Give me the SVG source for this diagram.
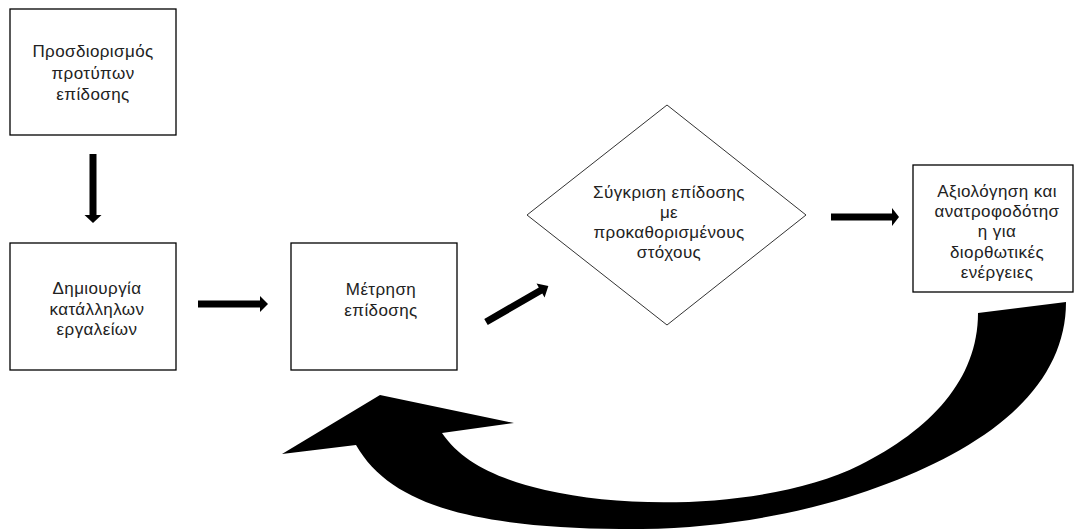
<svg xmlns="http://www.w3.org/2000/svg" width="1075" height="529" viewBox="0 0 1075 529">
  <style>
    .box { fill: #ffffff; stroke: #000000; stroke-width: 1.3; }
    .diamond { fill: #ffffff; stroke: #333333; stroke-width: 1; }
    .label { font-family: "Liberation Sans", Arial, sans-serif; font-size: 17px; letter-spacing: 0.4px; fill: #222222; text-anchor: middle; }
    .arrow { fill: #000000; }
  </style>
  <rect width="1075" height="529" fill="#ffffff"/>

  <g id="node-standards">
    <rect class="box" x="10" y="9" width="166" height="126"/>
    <text class="label" x="93" y="57">Προσδιορισμός</text>
    <text class="label" x="93" y="79">προτύπων</text>
    <text class="label" x="93" y="100">επίδοσης</text>
  </g>

  <g id="node-tools">
    <rect class="box" x="10" y="243" width="166" height="127"/>
    <text class="label" x="97" y="294">Δημιουργία</text>
    <text class="label" x="97" y="315">κατάλληλων</text>
    <text class="label" x="97" y="335">εργαλείων</text>
  </g>

  <g id="node-measure">
    <rect class="box" x="291" y="243" width="166" height="127"/>
    <text class="label" x="381" y="295">Μέτρηση</text>
    <text class="label" x="381" y="316">επίδοσης</text>
  </g>

  <g id="node-compare">
    <polygon class="diamond" points="667,105 806,215 667,325 527,215"/>
    <text class="label" x="669" y="198">Σύγκριση επίδοσης</text>
    <text class="label" x="669" y="218">με</text>
    <text class="label" x="669" y="238">προκαθορισμένους</text>
    <text class="label" x="669" y="258">στόχους</text>
  </g>

  <g id="node-evaluate">
    <rect class="box" x="913" y="165" width="160" height="127"/>
    <text class="label" x="997" y="197">Αξιολόγηση και</text>
    <text class="label" x="997" y="217">ανατροφοδότησ</text>
    <text class="label" x="997" y="237">η για</text>
    <text class="label" x="997" y="258">διορθωτικές</text>
    <text class="label" x="997" y="278">ενέργειες</text>
  </g>

  <g id="connectors">
    <!-- standards -> tools -->
    <polygon class="arrow" points="89.5,154 96.5,154 96.5,215 101.5,215 93,223 84.5,215 89.5,215"/>
    <!-- tools -> measure -->
    <polygon class="arrow" points="198,300.5 260,300.5 260,296 268,304 260,312 260,307.5 198,307.5"/>
    <!-- measure -> compare -->
    <polygon class="arrow" transform="translate(486,322) rotate(-30)" points="0,-3.5 63,-3.5 63,-8 72,0 63,8 63,3.5 0,3.5"/>
    <!-- compare -> evaluate -->
    <polygon class="arrow" points="831,213.5 892,213.5 892,208 899,217 892,226 892,220.5 831,220.5"/>
    <!-- evaluate -> measure (feedback loop) -->
    <path class="arrow" d="M 442,433 L 514,423 L 380,395 L 282,454 L 356,445
             C 392,508 480,527 620,529
             C 760,531 880,495 960,450
             C 1030,410 1066,360 1066,302
             L 978,313
             C 978,380 930,430 860,465
             C 780,505 640,512 545,490
             C 495,478 462,462 442,433 Z"/>
  </g>
</svg>
